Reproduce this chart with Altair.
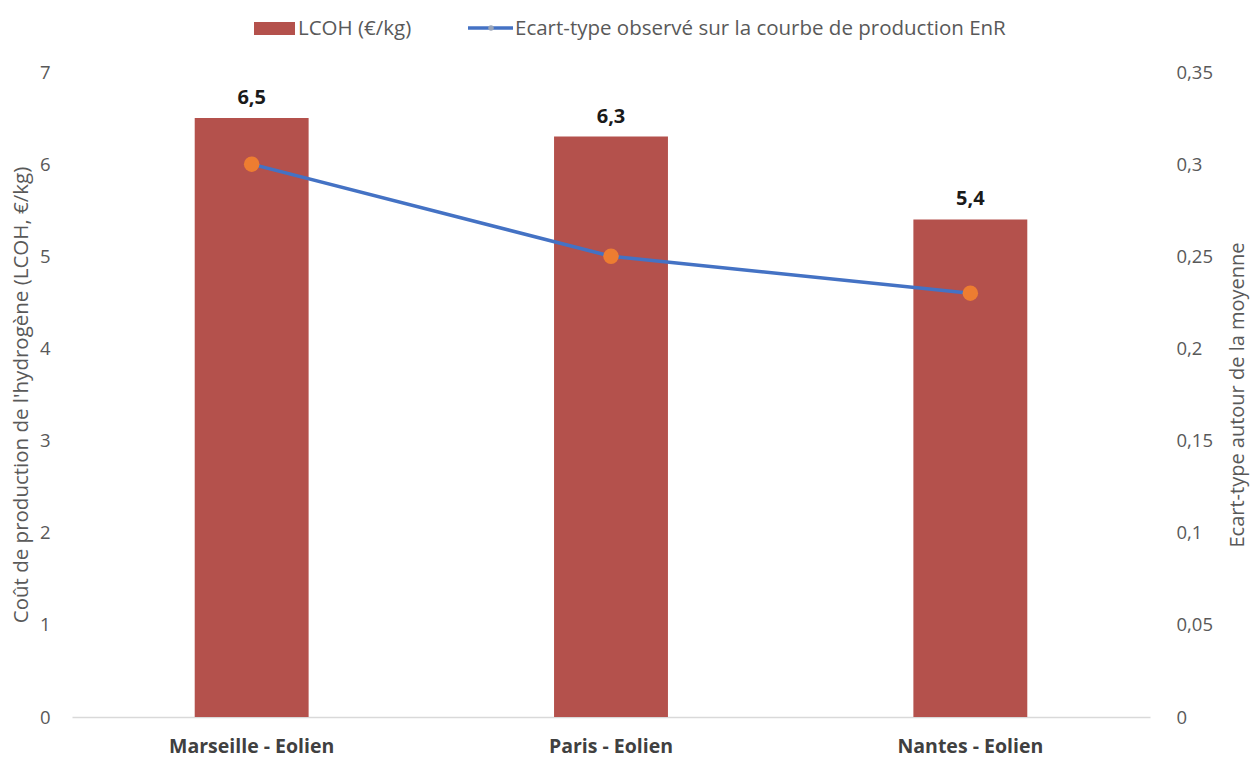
import altair as alt
import pandas as pd

categories = ["Marseille - Eolien", "Paris - Eolien", "Nantes - Eolien"]
lcoh = [6.5, 6.3, 5.4]
ecart_type = [0.30, 0.25, 0.23]

legend_labels = ["LCOH (€/kg)", "Ecart-type observé sur la courbe de production EnR"]

FONT = "Open Sans"
BAR = "#B4514C"
LINE = "#4472C4"
DOT = "#ED7D31"
GRAY = "#595959"

df = pd.DataFrame({"cat": categories, "lcoh": lcoh, "sd": ecart_type})
df["lbl"] = [f"{v:.1f}".replace(".", ",") for v in lcoh]

W, H = 1078, 645

xenc = alt.X(
    "cat:N",
    sort=categories,
    scale=alt.Scale(paddingInner=0.683, paddingOuter=0.3415),
    axis=alt.Axis(
        title=None, labelAngle=0, ticks=False, domainColor="#D9D9D9", domainWidth=1.5,
        labelFont=FONT, labelFontSize=19.5, labelFontWeight="bold", labelColor="#404040",
        labelPadding=20,
    ),
)

yleft = alt.Y(
    "lcoh:Q",
    scale=alt.Scale(domain=[0, 7], nice=False),
    axis=alt.Axis(
        title="Coût de production de l'hydrogène (LCOH, €/kg)",
        values=[0, 1, 2, 3, 4, 5, 6, 7], format="d", grid=False, domain=False, ticks=False,
        labelFont=FONT, labelFontSize=18.5, labelColor=GRAY, labelPadding=22,
        titleFont=FONT, titleFontSize=20.5, titleFontWeight="normal", titleColor=GRAY,
        titlePadding=8,
    ),
)

bars = alt.Chart(df).mark_bar(color=BAR).encode(x=xenc, y=yleft)

texts = alt.Chart(df).mark_text(
    dy=-10, font=FONT, fontSize=20, fontWeight="bold", color="#1A1A1A", baseline="bottom"
).encode(x=alt.X("cat:N", sort=categories), y=alt.Y("lcoh:Q"), text="lbl:N")

left = alt.layer(bars, texts)

yright = alt.Y(
    "sd:Q",
    scale=alt.Scale(domain=[0, 0.35], nice=False),
    axis=alt.Axis(
        orient="right",
        title="Ecart-type autour de la moyenne",
        values=[0, 0.05, 0.1, 0.15, 0.2, 0.25, 0.3, 0.35],
        format="~g",
        labelExpr="replace(datum.label, '.', ',')",
        grid=False, domain=False, ticks=False,
        labelFont=FONT, labelFontSize=18.5, labelColor=GRAY, labelPadding=26,
        titleFont=FONT, titleFontSize=20, titleFontWeight="normal", titleColor=GRAY,
        titlePadding=35, titleAngle=270,
    ),
)

line = alt.Chart(df).mark_line(color=LINE, strokeWidth=3.5).encode(
    x=alt.X("cat:N", sort=categories), y=yright
)
pts = alt.Chart(df).mark_point(filled=True, color=DOT, size=240, opacity=1).encode(
    x=alt.X("cat:N", sort=categories), y=alt.Y("sd:Q")
)
right = alt.layer(line, pts)

# Legend (decorative, placed in pixel space)
leg = pd.DataFrame({"t": legend_labels})
leg_rect = alt.Chart(leg.iloc[[0]]).mark_rect(color=BAR).encode(
    x=alt.value(254 - 72), x2=alt.value(295 - 72), y=alt.value(22 - 72), y2=alt.value(35 - 72)
)
leg_t1 = alt.Chart(leg.iloc[[0]]).mark_text(
    align="left", baseline="middle", font=FONT, fontSize=20.5, color=GRAY
).encode(x=alt.value(298 - 72), y=alt.value(29 - 72), text="t:N")
leg_line = alt.Chart(leg.iloc[[1]]).mark_rule(color=LINE, strokeWidth=3.5).encode(
    x=alt.value(468 - 72), x2=alt.value(513 - 72), y=alt.value(28 - 72)
)
leg_dot = alt.Chart(leg.iloc[[1]]).mark_point(filled=True, color="#9AA5B8", size=30, opacity=1).encode(
    x=alt.value(491 - 72), y=alt.value(28 - 72)
)
leg_t2 = alt.Chart(leg.iloc[[1]]).mark_text(
    align="left", baseline="middle", font=FONT, fontSize=20.5, color=GRAY
).encode(x=alt.value(515 - 72), y=alt.value(29 - 72), text="t:N")

chart = alt.layer(left, right, leg_rect, leg_t1, leg_line, leg_dot, leg_t2).resolve_scale(
    y="independent"
).properties(
    width=W, height=H,
    autosize=alt.AutoSizeParams(type="none"),
    padding={"left": 72, "top": 72, "right": 103, "bottom": 41},
    background="white",
).configure_view(stroke=None)

chart.save("out.html", embed_options={"renderer": "svg", "actions": False})
